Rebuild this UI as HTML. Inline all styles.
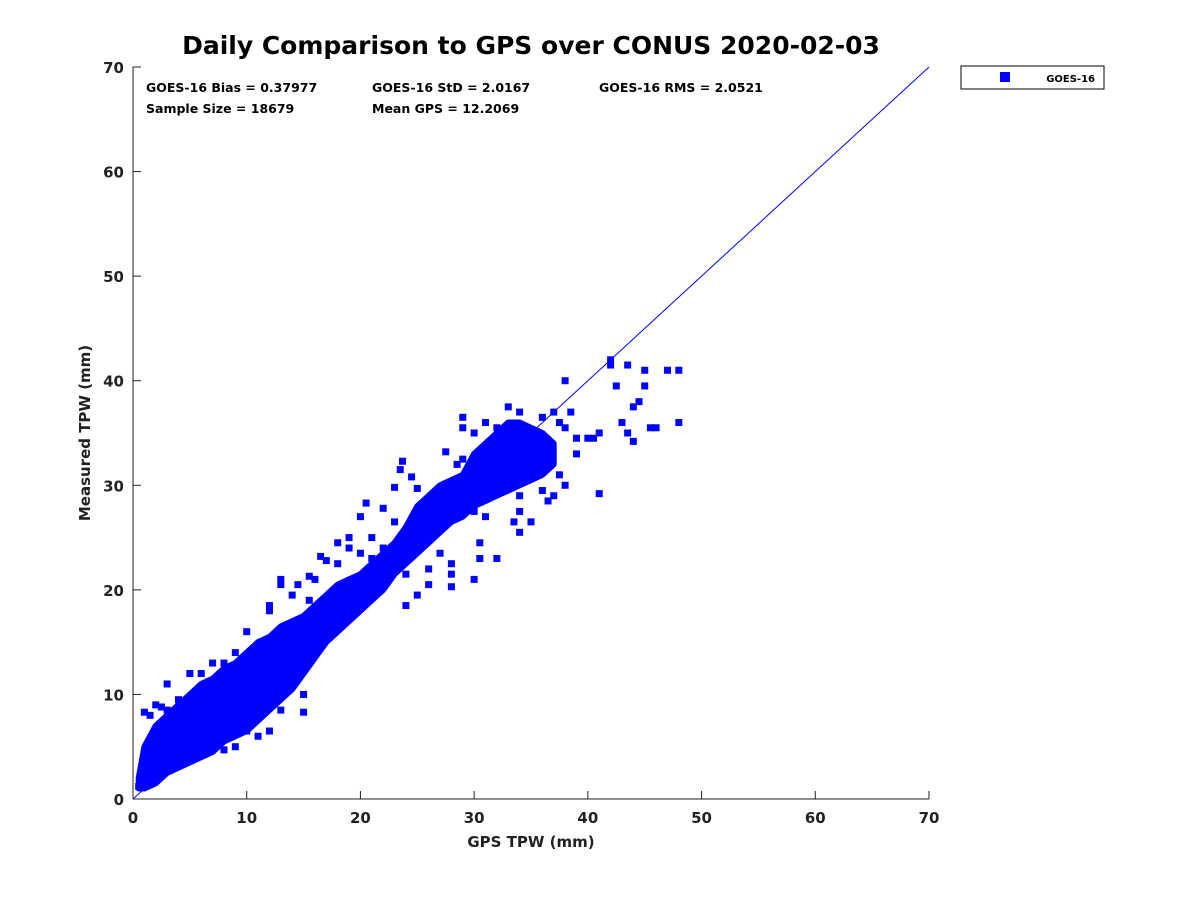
<!DOCTYPE html>
<html><head><meta charset="utf-8"><style>
body{margin:0;background:#fff;width:1200px;height:900px;overflow:hidden}
svg text{font-family:"DejaVu Sans","Liberation Sans",sans-serif;font-weight:bold;fill:#222}
</style></head><body>
<svg id="chart" width="1200" height="900" xmlns="http://www.w3.org/2000/svg">
<text x="531" y="54" text-anchor="middle" font-size="25" style="fill:#000">Daily Comparison to GPS over CONUS 2020-02-03</text>
<g id="plot"></g>
<g id="axes"></g>
<text x="146" y="92" font-size="12.5" style="fill:#000">GOES-16 Bias = 0.37977</text>
<text x="372" y="92" font-size="12.5" style="fill:#000">GOES-16 StD = 2.0167</text>
<text x="599" y="92" font-size="12.5" style="fill:#000">GOES-16 RMS = 2.0521</text>
<text x="146" y="113" font-size="12.5" style="fill:#000">Sample Size = 18679</text>
<text x="372" y="113" font-size="12.5" style="fill:#000">Mean GPS = 12.2069</text>
<text x="531" y="847" text-anchor="middle" font-size="15">GPS TPW (mm)</text>
<text transform="translate(90,433) rotate(-90)" text-anchor="middle" font-size="15">Measured TPW (mm)</text>
<g>
<rect x="961" y="66" width="143" height="23" fill="#fff" stroke="#000" stroke-width="1"/>
<rect x="1000" y="72" width="10" height="10" fill="#0000ff"/>
<text x="1095" y="82" text-anchor="end" font-size="10" style="fill:#000">GOES-16</text>
</g>
</svg>
<script>
const xTicks=[0,10,20,30,40,50,60,70];
const yTicks=[0,10,20,30,40,50,60,70];
const coreGps=[0.5,1,2,3,4,5,6,7,8,9,10,11,12,13,14,15,16,17,18,19,20,21,22,23,24,25,26,27,28,29,30,31,32,33,34,35,36,37];
const coreLow=[1,1,1.5,2.5,3,3.5,4,4.5,5.5,6,6.5,7.5,8.5,9.5,10.5,12,13.5,15,16,17,18,19,20,21.5,22.5,23.5,24.5,25.5,26.5,27,28,28.5,29,29.5,30,30.5,31,32];
const coreHigh=[2,5,7,8,9,10,11,11.5,12.5,13,14,15,15.5,16.5,17,17.5,18.5,19.5,20.5,21,21.5,22.5,23.5,24.5,26,28,29,30,30.5,31,33,34,35,36,36,35.5,35,34];
const ptGps=[1,1.5,2.5,3,4,2,12,12,13,15,15,14,13,12,11,10,9,8,16,14.5,17,18,19,20,20.5,21,22,23,23.5,23.7,24.5,25,25.5,25.5,24,24,25,26,27,28,28,28,30,30.5,26,27.5,28.5,29,29,29,30,31,32,33,34,35,36,37,37.5,38,38,38.5,39,39,40,40.5,41,41,42,42,42.5,43,43.5,43.5,44,44,44.5,45,45.5,45,46,47,48,48,36.5,36,35,34,33.5,34,37,38,37.5,36,34,32,31,30,30.5,23,22.5,22,21,20,19,18,16.5,15.5,15,13,13,14,15.5,17,18,11,10,8,9,7,6,5,3,0.8,0.5];
const ptMeas=[8.3,8,8.8,8.5,9.5,9,18.5,18,12,8.3,10,11,8.5,6.5,6,6.5,5,4.7,21,20.5,22.8,24.5,25,27,28.3,25,27.8,29.8,31.5,32.3,30.8,29.7,27.5,25.3,21.5,18.5,19.5,22,23.5,22.5,20.3,21.5,21,23,20.5,33.2,32,32.5,35.5,36.5,35,36,35.5,37.5,37,35,36.5,37,36,35.5,40,37,33,34.5,34.5,34.5,29.2,35,41.5,42,39.5,36,41.5,35,37.5,34.2,38,39.5,35.5,41,35.5,41,41,36,28.5,29.5,26.5,25.5,26.5,29,29,30,31,33,27.5,23,27,27.5,24.5,26.5,23,24,23,23.5,24,22.5,23.2,21.3,17,20.5,21,19.5,19,17,17,12.5,16,13,14,13,12,12,11,1.5,1.2];
const X0=133,X1=929,Y0=799,Y1=67,MAX=70;
const sx=v=>X0+(X1-X0)*v/MAX, sy=v=>Y0-(Y0-Y1)*v/MAX;
const NS="http://www.w3.org/2000/svg";
const plot=document.getElementById('plot'), axes=document.getElementById('axes');
function mk(tag,attrs,parent){const e=document.createElementNS(NS,tag);for(const k in attrs)e.setAttribute(k,attrs[k]);parent.appendChild(e);return e;}
let d='';
coreGps.forEach((g,i)=>{d+=(i?'L':'M')+sx(g).toFixed(1)+','+sy(coreHigh[i]).toFixed(1);});
for(let i=coreGps.length-1;i>=0;i--)d+='L'+sx(coreGps[i]).toFixed(1)+','+sy(coreLow[i]).toFixed(1);
const core=mk('path',{d:d+'Z',fill:'#0000ff',stroke:'#0000ff','stroke-width':6,'stroke-linejoin':'round'},plot);


ptGps.forEach((g,i)=>{
  const r=mk('rect',{x:sx(g)-3.5,y:sy(ptMeas[i])-3.5,width:7,height:7,fill:'#0000ff'},plot);
  
  
});
const diag=mk('line',{x1:sx(0),y1:sy(0),x2:sx(70),y2:sy(70),stroke:'#0000ff','stroke-width':1},plot);


const xa=mk('line',{x1:X0,y1:Y0,x2:X1,y2:Y0,stroke:'#222','stroke-width':1},axes);


const ya=mk('line',{x1:X0,y1:Y0,x2:X0,y2:Y1,stroke:'#222','stroke-width':1},axes);


xTicks.forEach(t=>{
  mk('line',{x1:sx(t),y1:Y0,x2:sx(t),y2:Y0-8,stroke:'#222'},axes);
  const tx=mk('text',{x:sx(t),y:Y0+24,'text-anchor':'middle','font-size':15},axes);
  tx.textContent=t;
  
  
});
yTicks.forEach(t=>{
  mk('line',{x1:X0,y1:sy(t),x2:X0+8,y2:sy(t),stroke:'#222'},axes);
  const tx=mk('text',{x:X0-9,y:sy(t)+6,'text-anchor':'end','font-size':15},axes);
  tx.textContent=t;
  
  
});
</script>
</body></html>
